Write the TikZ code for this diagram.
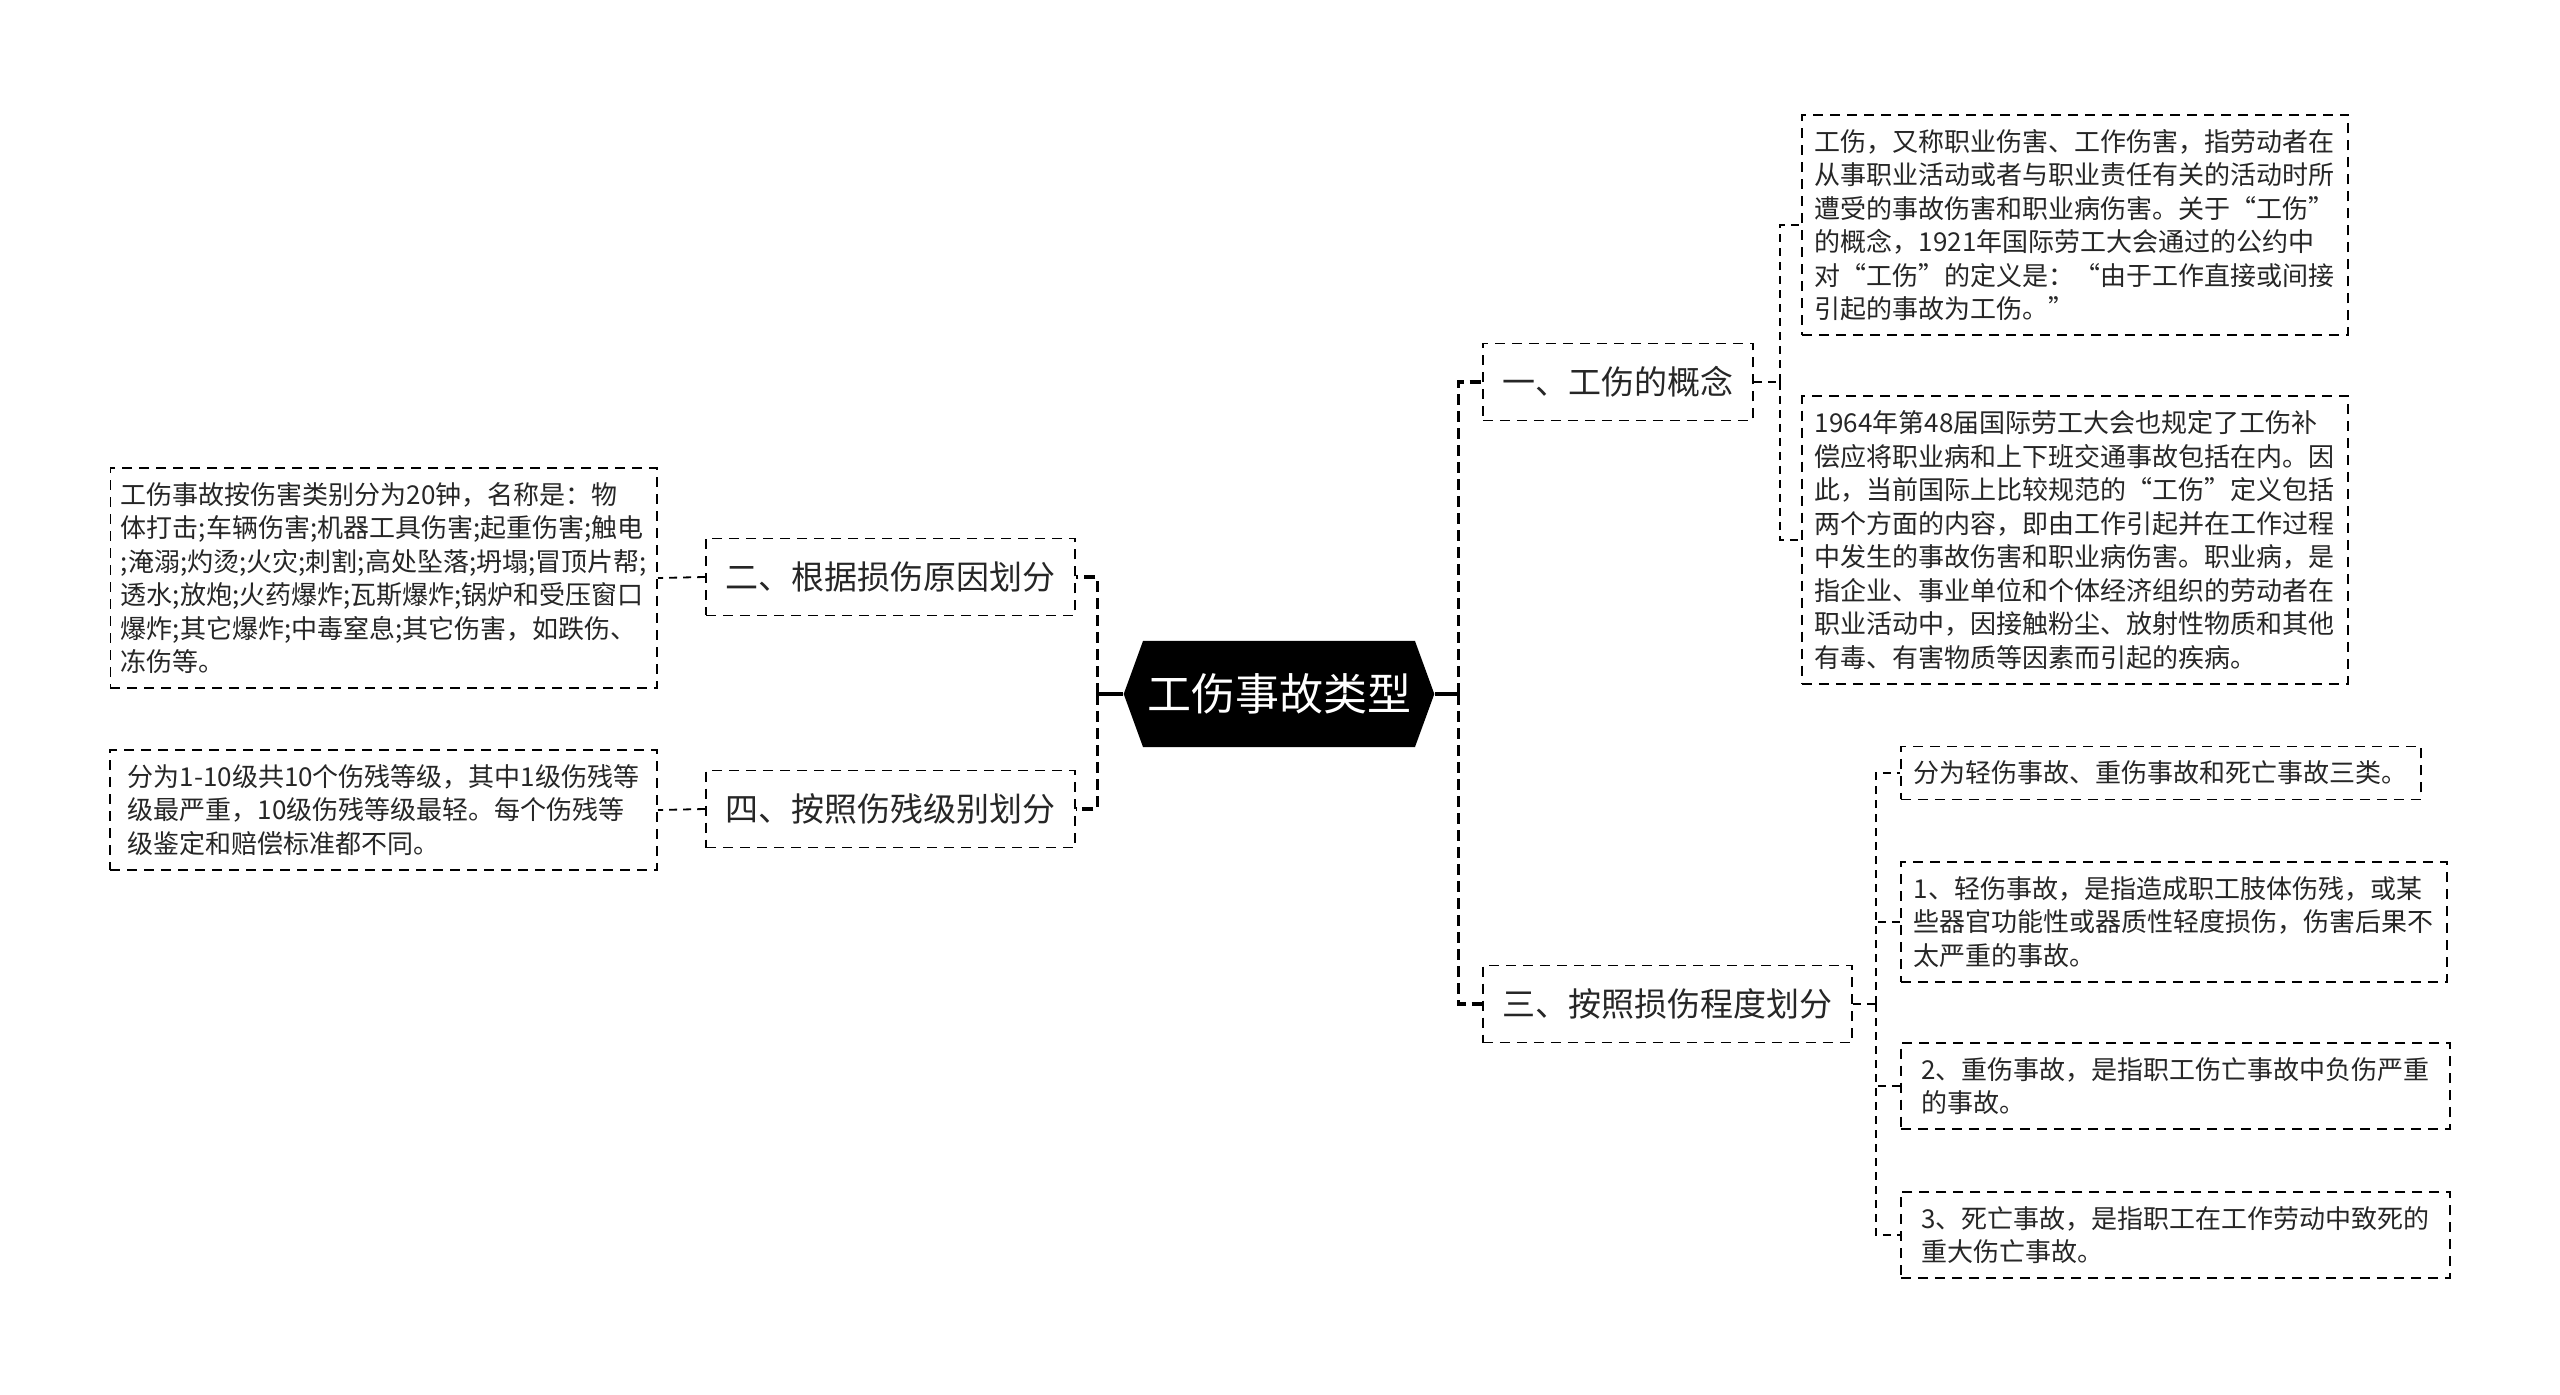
\documentclass[tikz,border=0pt]{standalone}
\usepackage{fontspec}
\setmainfont{Noto Sans CJK SC}
\usetikzlibrary{shapes.symbols}

\begin{document}
\begin{tikzpicture}[x=0.5pt,y=-0.5pt,
    leafbox/.style={draw,dash pattern=on 5pt off 3.5pt,line width=0.9pt,align=left,inner xsep=6.5pt,inner ysep=7.2pt,font=\fontsize{13pt}{16.75pt}\selectfont,text=black!85},
    catbox/.style={draw,dash pattern=on 5pt off 3.5pt,line width=0.9pt,inner xsep=9.75pt,minimum height=38.5pt,font=\fontsize{16.5pt}{20pt}\selectfont,text=black!85},
    rootbox/.style={signal,signal to=east and west,signal pointer angle=140,fill=black,text=white,minimum width=154.5pt,minimum height=53pt,inner xsep=2pt,font=\fontsize{22pt}{26pt}\selectfont},
    trunk/.style={line width=1.7pt,dash pattern=on 5.5pt off 3pt},
    twig/.style={line width=0.9pt,dash pattern=on 4pt off 3pt},
    stem/.style={line width=1.7pt}]
    \useasboundingbox (0,0) rectangle (2560,1395);

    \node[rootbox] (root) at (1279,694) {工伤事故类型};

    \node[catbox,anchor=west] (c1) at (1482,382) {一、工伤的概念};
    \node[catbox,anchor=east] (c2) at (1076,577) {二、根据损伤原因划分};
    \node[catbox,anchor=west] (c3) at (1482,1004) {三、按照损伤程度划分};
    \node[catbox,anchor=east] (c4) at (1076,809) {四、按照伤残级别划分};

    \node[leafbox,anchor=west] (l1a) at (1801,225) {工伤，又称职业伤害、工作伤害，指劳动者在\\从事职业活动或者与职业责任有关的活动时所\\遭受的事故伤害和职业病伤害。关于“工伤”\\的概念，1921年国际劳工大会通过的公约中\\对“工伤”的定义是：“由于工作直接或间接\\引起的事故为工伤。”};
    \node[leafbox,anchor=west] (l1b) at (1801,540) {1964年第48届国际劳工大会也规定了工伤补\\偿应将职业病和上下班交通事故包括在内。因\\此，当前国际上比较规范的“工伤”定义包括\\两个方面的内容，即由工作引起并在工作过程\\中发生的事故伤害和职业病伤害。职业病，是\\指企业、事业单位和个体经济组织的劳动者在\\职业活动中，因接触粉尘、放射性物质和其他\\有毒、有害物质等因素而引起的疾病。};

    \node[leafbox,anchor=east,inner xsep=5.2pt] (l2) at (658,578) {工伤事故按伤害类别分为20钟，名称是：物\\体打击;车辆伤害;机器工具伤害;起重伤害;触电\\;淹溺;灼烫;火灾;刺割;高处坠落;坍塌;冒顶片帮;\\透水;放炮;火药爆炸;瓦斯爆炸;锅炉和受压窗口\\爆炸;其它爆炸;中毒窒息;其它伤害，如跌伤、\\冻伤等。};
    \node[leafbox,anchor=east,minimum width=273.5pt] (l4) at (658,810) {分为1-10级共10个伤残等级，其中1级伤残等\\级最严重，10级伤残等级最轻。每个伤残等\\级鉴定和赔偿标准都不同。};

    \node[leafbox,anchor=west] (l3a) at (1900,773) {分为轻伤事故、重伤事故和死亡事故三类。};
    \node[leafbox,anchor=west] (l3b) at (1900,922) {1、轻伤事故，是指造成职工肢体伤残，或某\\些器官功能性或器质性轻度损伤，伤害后果不\\太严重的事故。};
    \node[leafbox,anchor=west,minimum width=274.5pt] (l3c) at (1900,1086) {2、重伤事故，是指职工伤亡事故中负伤严重\\的事故。};
    \node[leafbox,anchor=west,minimum width=274.5pt] (l3d) at (1900,1235) {3、死亡事故，是指职工在工作劳动中致死的\\重大伤亡事故。};

    % main branches
    \draw[stem] (root.east) -- ++(24,0) coordinate (rj);
    \draw[stem] (root.west) -- ++(-26,0) coordinate (lj);
    \draw[trunk] (rj) |- (c1.west);
    \draw[trunk] (rj) |- (c3.west);
    \draw[trunk] (lj) |- (c2.east);
    \draw[trunk] (lj) |- (c4.east);

    % leaves
    \draw[twig] (c1.east) -- ++(26,0) coordinate (j1);
    \draw[twig] (j1) |- (l1a.west);
    \draw[twig] (j1) |- (l1b.west);
    \draw[twig] (c3.east) -- ++(23,0) coordinate (j3);
    \foreach \n in {l3a,l3b,l3c,l3d}
        \draw[twig] (j3) |- (\n.west);
    \draw[twig] (c2.west) -- (l2.east);
    \draw[twig] (c4.west) -- (l4.east);
\end{tikzpicture}
\end{document}
